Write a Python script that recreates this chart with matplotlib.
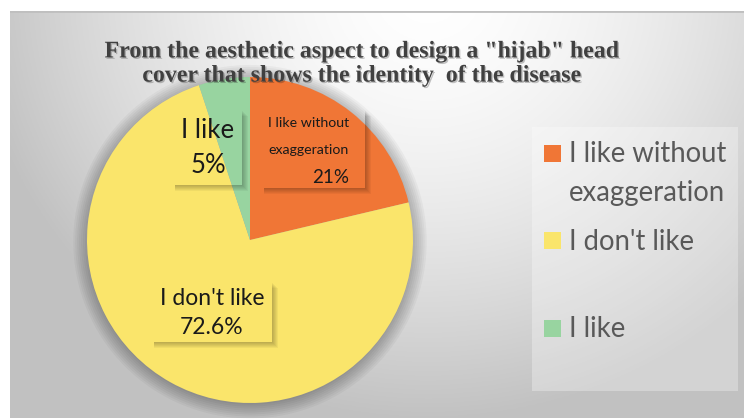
import numpy as np
import matplotlib.pyplot as plt
from matplotlib.patches import Rectangle
from matplotlib import patheffects as pe

# --------------------------------------------------
# Data
# --------------------------------------------------
categories = ["I like without\nexaggeration", "I don't like", "I like"]
values = [21, 72.6, 5]
colors = ["#F07636", "#FAE56B", "#98D4A0"]
title = ('From the aesthetic aspect to design a "hijab" head\n'
         'cover that shows the identity  of the disease')

W, H = 744, 419


def fx(x):
    return x / W


def fy(y):
    return 1 - y / H


fig = plt.figure(figsize=(W / 100, H / 100), dpi=100, facecolor="white")

# --------------------------------------------------
# Chart area background (radial grey gradient)
# --------------------------------------------------
left, top, right, bottom = 10, 11, 744, 418
bg = fig.add_axes([fx(left), fy(bottom), fx(right - left), (bottom - top) / H])
gx, gy = np.meshgrid(np.linspace(0, 1, 400), np.linspace(0, 1, 220))
d = np.sqrt(((gx - 0.57) / 0.62) ** 2 + ((gy + 0.05) / 1.05) ** 2)
shade = 1 - 0.24 * np.clip(d, 0, 1) ** 1.6
bg.imshow(np.dstack([shade] * 3), aspect="auto", extent=[0, 1, 1, 0])
bg.axhline(0.0, color="#bfbfbf", lw=2)
bg.set_xlim(0, 1)
bg.set_ylim(1, 0)
bg.axis("off")

# --------------------------------------------------
# Pie
# --------------------------------------------------
cx, cy, r = 250, 240, 163
k = 1.25
ax = fig.add_axes([fx(cx - r * k), fy(cy + r * k), 2 * r * k / W, 2 * r * k / H])
ax.set_xlim(-k, k)
ax.set_ylim(-k, k)
ax.axis("off")

# soft outer shadow around the pie
for i in range(8):
    ax.add_patch(plt.Circle((0, -0.01), 1.0 + 0.012 * i, color="black",
                            alpha=0.035, lw=0, zorder=0))

ax.pie(values, colors=colors, startangle=90, counterclock=False,
       radius=1, wedgeprops=dict(linewidth=0, zorder=1))


# --------------------------------------------------
# Data labels (transparent boxes with soft shadow)
# --------------------------------------------------
def label_box(x0, y0, x1, y1):
    for o in range(1, 7):
        fig.add_artist(Rectangle((fx(x1), fy(y1 + o)), o / W, (y1 - y0 - 2) / H,
                                 transform=fig.transFigure, color="black",
                                 alpha=0.045, lw=0))
        fig.add_artist(Rectangle((fx(x0 + 2), fy(y1 + o)), (x1 - x0 - 2) / W, o / H,
                                 transform=fig.transFigure, color="black",
                                 alpha=0.045, lw=0))


pct = [f"{v:g}%" for v in values]
txt = dict(family="Lato", color="#1a1a1a", transform=fig.transFigure)

# I like without exaggeration
label_box(262, 108, 365, 188)
fig.text(fx(349), fy(123), "I like without", ha="right", va="center", fontsize=10.2, **txt)
fig.text(fx(349), fy(150), "exaggeration", ha="right", va="center", fontsize=10.2, **txt)
fig.text(fx(349), fy(177), pct[0], ha="right", va="center", fontsize=13.5, **txt)

# I don't like
label_box(152, 280, 272, 342)
fig.text(fx(212), fy(298), categories[1], ha="center", va="center", fontsize=16.5, **txt)
fig.text(fx(212), fy(327), pct[1], ha="center", va="center", fontsize=16.5, **txt)

# I like
label_box(173, 108, 242, 185)
fig.text(fx(208), fy(130), categories[2], ha="center", va="center", fontsize=18.5, **txt)
fig.text(fx(208), fy(165), pct[2], ha="center", va="center", fontsize=18.5, **txt)

# --------------------------------------------------
# Title
# --------------------------------------------------
fig.text(fx(363), fy(64), title, ha="center", va="center", fontsize=17.2,
         family="Liberation Serif", weight="bold", color="#404040",
         linespacing=1.2,
         path_effects=[pe.SimplePatchShadow(offset=(1, -1), alpha=0.25), pe.Normal()])

# --------------------------------------------------
# Legend
# --------------------------------------------------
fig.add_artist(Rectangle((fx(532), fy(391)), (738 - 532) / W, (391 - 127) / H,
                         transform=fig.transFigure, color="white", alpha=0.3, lw=0))
leg_y = [153, 241, 328]
for c, lab, y in zip(colors, categories, leg_y):
    fig.add_artist(Rectangle((fx(544), fy(y + 8.5)), 17 / W, 17 / H,
                             transform=fig.transFigure, color=c, lw=0))
    fig.text(fx(569), fy(y - 12), lab, ha="left", va="top", fontsize=19.8,
             family="Lato", color="#595959", linespacing=1.6)

fig.savefig("out.png", dpi=100)
